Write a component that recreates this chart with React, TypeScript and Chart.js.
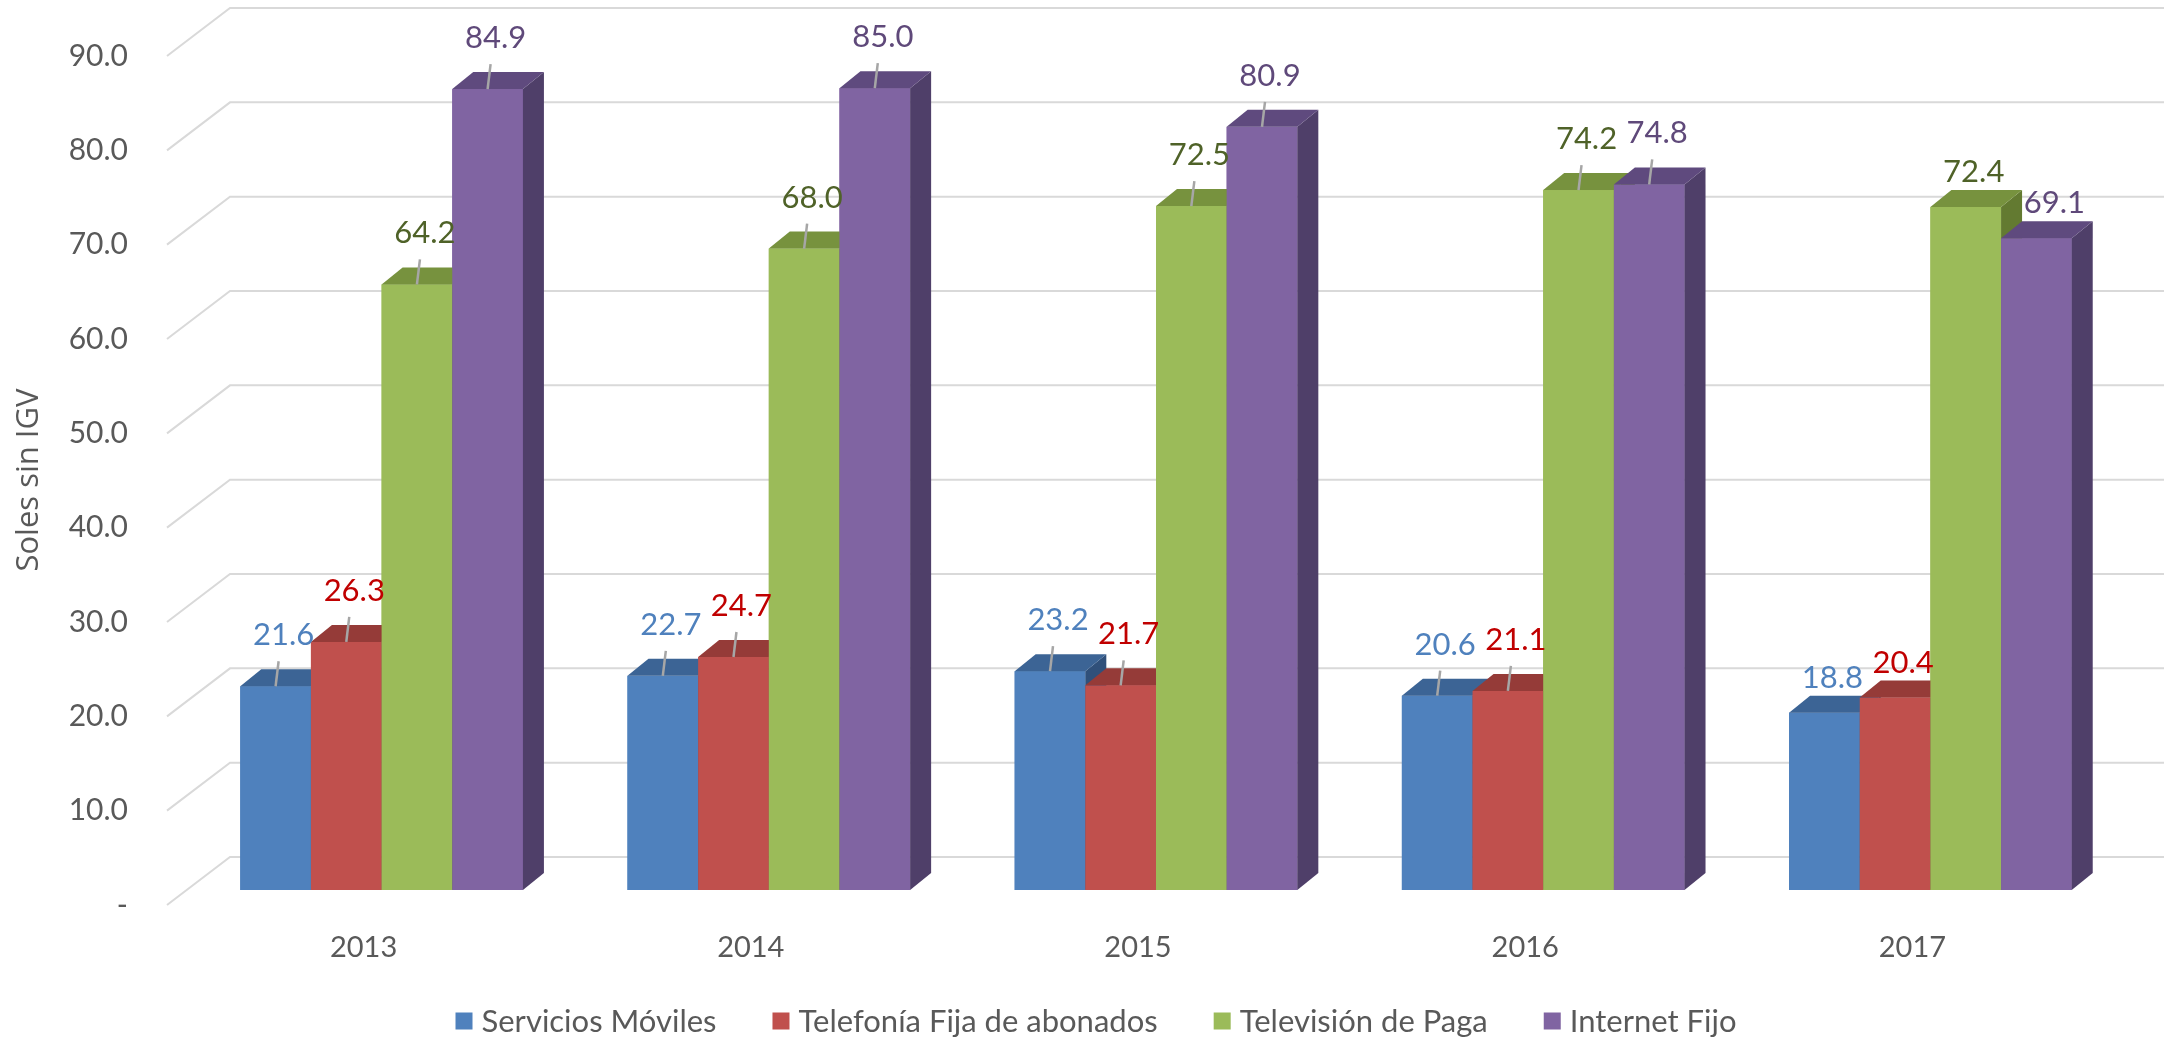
import React, { useEffect, useRef } from 'react';
import { Chart, registerables } from 'chart.js';

Chart.register(...registerables);

// ---------- data ----------
const categories = ['2013', '2014', '2015', '2016', '2017'];
const seriesNames = ['Servicios Móviles', 'Telefonía Fija de abonados', 'Televisión de Paga', 'Internet Fijo'];
const serviciosMoviles = [21.6, 22.7, 23.2, 20.6, 18.8];
const telefoniaFija = [26.3, 24.7, 21.7, 21.1, 20.4];
const televisionPaga = [64.2, 68.0, 72.5, 74.2, 72.4];
const internetFijo = [84.9, 85.0, 80.9, 74.8, 69.1];
const yTickLabels = ['-', '10.0', '20.0', '30.0', '40.0', '50.0', '60.0', '70.0', '80.0', '90.0'];
const yAxisTitle = 'Soles sin IGV';

// ---------- styles ----------
const frontColors = ['#4F81BD', '#C0504D', '#9BBB59', '#8064A2'];
const topColors = ['#3C6495', '#953B38', '#77923E', '#5F4A7E'];
const sideColors = ['#30507A', '#7A2F2D', '#637A31', '#4F3F69'];
const labelColors = ['#4F81BD', '#C00000', '#4F6228', '#5F497A'];
const TEXT = '#595959';
const GRID = '#D9D9D9';
const FONT = 'Lato';

// 3D geometry (pixels)
const BAR_DX = 21;
const BAR_DY = 17;
const BACK_DX = 42;
const BACK_DY = 33;
const FRONT_DX = 21;
const FRONT_DY = 15;

const wallPlugin = {
  id: 'wall3d',
  beforeDatasetsDraw(chart: any) {
    const { ctx, chartArea, scales } = chart;
    const ys = scales.y;
    ctx.save();
    ctx.strokeStyle = GRID;
    ctx.lineWidth = 2;
    ys.ticks.forEach((t: any) => {
      const y = ys.getPixelForValue(t.value);
      ctx.beginPath();
      ctx.moveTo(chartArea.left - FRONT_DX, y + FRONT_DY);
      ctx.lineTo(chartArea.left + BACK_DX, y - BACK_DY);
      ctx.lineTo(chart.width, y - BACK_DY);
      ctx.stroke();
    });
    ctx.restore();
  },
};

const bar3dPlugin = {
  id: 'bar3d',
  afterDatasetsDraw(chart: any) {
    const { ctx } = chart;
    const n = chart.data.labels.length;
    const metas = chart.data.datasets.map((_: any, i: number) => chart.getDatasetMeta(i));
    ctx.save();
    for (let j = 0; j < n; j++) {
      for (let i = 0; i < metas.length; i++) {
        const el = metas[i].data[j];
        if (!el) continue;
        const { x, y, base, width } = el.getProps(['x', 'y', 'base', 'width'], true);
        const l = x - width / 2;
        const r = x + width / 2;
        // front
        ctx.fillStyle = frontColors[i];
        ctx.fillRect(l, y, width, base - y);
        // side
        ctx.fillStyle = sideColors[i];
        ctx.beginPath();
        ctx.moveTo(r, y);
        ctx.lineTo(r + BAR_DX, y - BAR_DY);
        ctx.lineTo(r + BAR_DX, base - BAR_DY);
        ctx.lineTo(r, base);
        ctx.closePath();
        ctx.fill();
        // top
        ctx.fillStyle = topColors[i];
        ctx.beginPath();
        ctx.moveTo(l, y);
        ctx.lineTo(l + BAR_DX, y - BAR_DY);
        ctx.lineTo(r + BAR_DX, y - BAR_DY);
        ctx.lineTo(r, y);
        ctx.closePath();
        ctx.fill();
      }
    }
    // labels
    ctx.font = `31px ${FONT}`;
    ctx.textAlign = 'center';
    ctx.textBaseline = 'middle';
    for (let j = 0; j < n; j++) {
      const last = j === n - 1;
      for (let i = 0; i < metas.length; i++) {
        const el = metas[i].data[j];
        if (!el) continue;
        const { x, y } = el.getProps(['x', 'y'], true);
        const v = chart.data.datasets[i].data[j] as number;
        if (!last) {
          ctx.strokeStyle = '#A6A6A6';
          ctx.lineWidth = 2.5;
          ctx.beginPath();
          ctx.moveTo(x, y);
          ctx.lineTo(x + 3, y - 25);
          ctx.stroke();
        }
        ctx.fillStyle = labelColors[i];
        ctx.fillText(v.toFixed(1), x + (last && i === 3 ? 18 : 8), y - (last ? 35 : 51));
      }
    }
    ctx.restore();
  },
  afterDraw(chart: any) {
    const { ctx } = chart;
    ctx.save();
    // y axis title
    ctx.font = `31px "Open Sans"`;
    ctx.fillStyle = TEXT;
    ctx.textAlign = 'center';
    ctx.textBaseline = 'middle';
    ctx.translate(29, 480);
    ctx.rotate(-Math.PI / 2);
    ctx.fillText(yAxisTitle, 0, 0);
    ctx.restore();

    // legend
    ctx.save();
    ctx.font = `31px ${FONT}`;
    ctx.textBaseline = 'middle';
    ctx.textAlign = 'left';
    const box = 17;
    const gapBox = 9;
    const gapItem = 56;
    const items = chart.data.datasets.map((d: any) => ({ label: d.label, color: d.backgroundColor, w: ctx.measureText(d.label).width }));
    const total = items.reduce((s: number, it: any) => s + box + gapBox + it.w, 0) + gapItem * (items.length - 1);
    let cx = chart.width / 2 + 14 - total / 2;
    const cy = 1021;
    items.forEach((it: any) => {
      ctx.fillStyle = it.color;
      ctx.fillRect(cx, cy - box / 2, box, box);
      cx += box + gapBox;
      ctx.fillStyle = TEXT;
      ctx.fillText(it.label, cx, cy + 1);
      cx += it.w + gapItem;
    });
    ctx.restore();
  },
};

export default function App() {
  const ref = useRef<HTMLCanvasElement | null>(null);

  useEffect(() => {
    document.body.style.margin = '0';
    const canvas = ref.current;
    if (!canvas) return;
    const series = [serviciosMoviles, telefoniaFija, televisionPaga, internetFijo];
    const chart = new Chart(canvas, {
      type: 'bar',
      data: {
        labels: categories,
        datasets: series.map((d, i) => ({
          label: seriesNames[i],
          data: d,
          backgroundColor: frontColors[i],
          borderWidth: 0,
          categoryPercentage: 0.73,
          barPercentage: 1.0,
        })),
      },
      options: {
        responsive: false,
        animation: false,
        devicePixelRatio: 1,
        layout: { padding: { top: 41, right: 40, left: 0, bottom: 0 } },
        plugins: {
          legend: { display: false },
          tooltip: { enabled: false },
          title: { display: false },
        },
        scales: {
          x: {
            grid: { display: false, drawTicks: false },
            border: { display: false },
            ticks: {
              color: TEXT,
              font: { family: FONT, size: 29 },
              labelOffset: -18,
              padding: 40,
              maxRotation: 0,
            },
            afterFit: (s: any) => {
              s.height = 152;
              s.paddingLeft = 0;
              s.paddingRight = 0;
            },
          },
          y: {
            min: 0,
            max: 90,
            grid: { display: false, drawTicks: false },
            border: { display: false },
            ticks: {
              stepSize: 10,
              color: TEXT,
              font: { family: FONT, size: 30 },
              padding: 60,
              labelOffset: 15,
              callback: (_v: any, idx: number) => yTickLabels[idx],
            },
            afterFit: (s: any) => {
              s.width = 188;
              s.paddingTop = 0;
              s.paddingBottom = 0;
            },
          },
        },
      },
      plugins: [wallPlugin, bar3dPlugin],
    });
    return () => chart.destroy();
  }, []);

  return (
    <div style={{ width: 2164, height: 1042, background: '#fff' }}>
      <canvas ref={ref} width={2164} height={1042} style={{ display: 'block' }} />
    </div>
  );
}
